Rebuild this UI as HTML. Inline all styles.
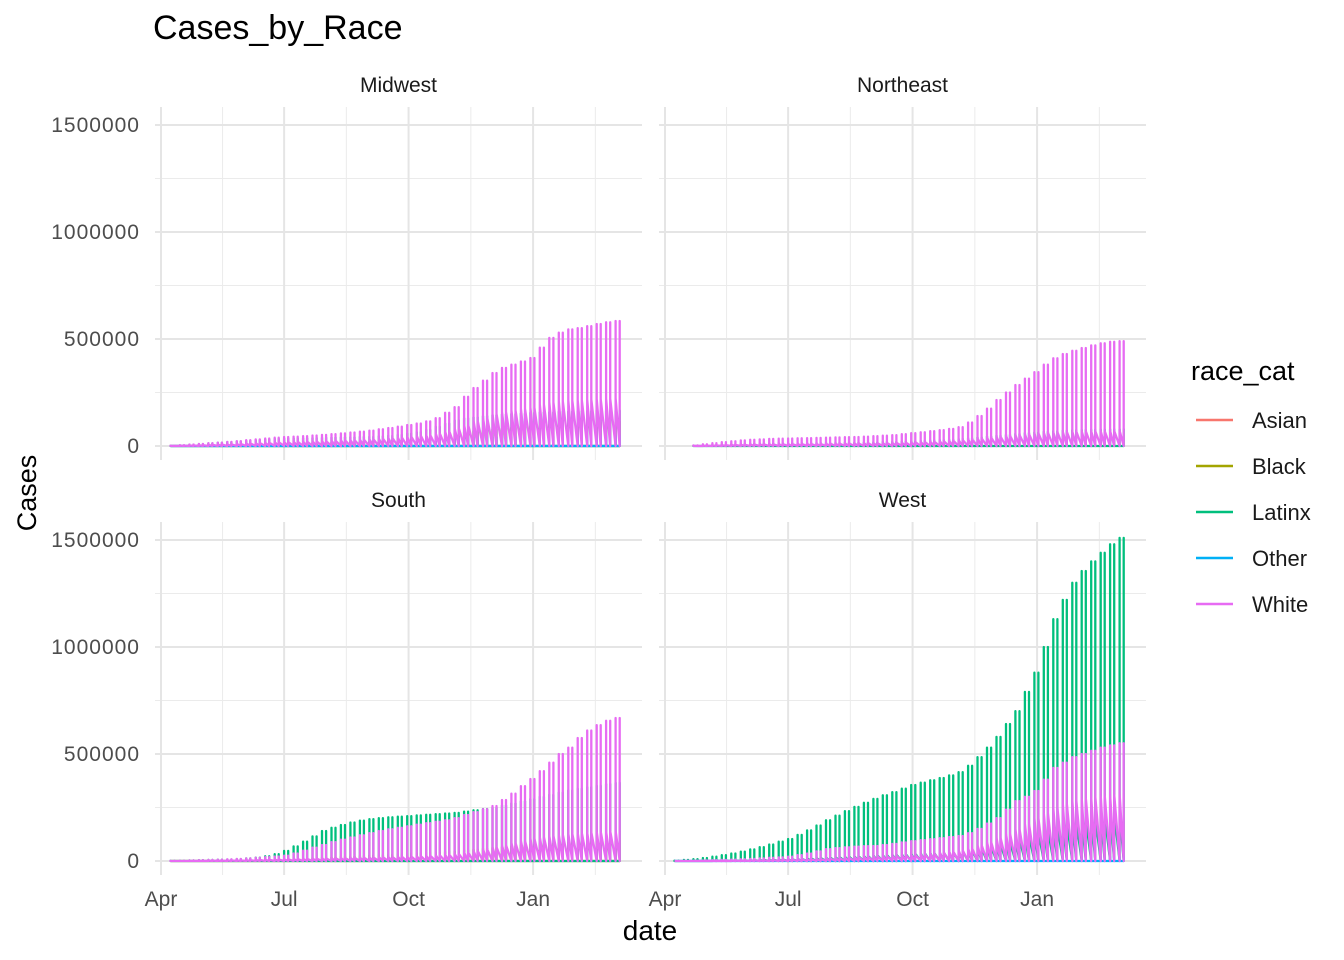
<!DOCTYPE html>
<html><head><meta charset="utf-8"><style>
body{margin:0;background:#fff;}
svg{display:block;font-family:"Liberation Sans",Arial,sans-serif;}
</style></head><body>
<svg id="chart" width="1344" height="960">
<g id="grid"></g><g id="series"></g><g id="axes"></g>
<text x="153" y="39" font-size="34" fill="#000">Cases_by_Race</text>
<text x="650" y="940" font-size="28" text-anchor="middle" fill="#000">date</text>
<text transform="translate(36,493) rotate(-90)" font-size="27" text-anchor="middle" fill="#000">Cases</text>
<g id="legend"></g>
</svg>
<script>
const NS="http://www.w3.org/2000/svg";
const panels=["Midwest","Northeast","South","West"];
const races=["Asian","Black","Latinx","Other","White"];
const colors={Asian:"#F8766D",Black:"#A3A500",Latinx:"#00BF7D",Other:"#00B0F6",White:"#E76BF3"};
const yTicks=[0,500000,1000000,1500000];
const yTickLabels=["0","500000","1000000","1500000"];
const xTickDays=[0,91,183,275];
const xTickLabels=["Apr","Jul","Oct","Jan"];
const startDay=7;
// weekly values (thousands)
const mwWhiteHi=[2,4,7,10,13,16,19,23,27,31,35,39,42,44,46,49,52,55,59,63,67,72,78,84,90,98,105,115,130,155,182,230,271,305,341,365,380,395,411,460,505,530,545,551,560,570,578,584];
const mwWhiteLo=[1,2,3,4,6,7,8,10,12,14,16,18,19,20,21,22,23,25,27,28,30,32,35,38,40,44,48,52,60,70,85,100,120,135,150,160,168,175,180,195,205,210,213,215,218,220,222,224];
const mwLatinxHi=[1,3,6,9,12,15,18,21,24,27,30,33,35,36,37,38,39,40,41,42,43,44,46,48,52,58,65,75,90,105,120,130,135,140,145,148,150,152,155,157,158,160,161,162,163,164,165,166];
const mwOtherHi=[0,0,1,1,1,2,2,3,3,4,4,5,5,6,6,7,8,9,10,11,12,13,14,16,18,20,23,27,31,35,38,40,41,42,42,43,43,44,44,44,45,45,45,45,46,46,46,47];
const mwBlackHi=[0,1,2,3,4,5,6,7,8,9,10,11,12,13,14,15,16,17,18,19,20,21,22,24,26,29,33,38,45,52,60,66,70,74,78,82,86,90,94,97,100,102,104,106,108,110,112,114];
const neWhiteHi=[0,0,3,8,13,18,22,26,29,31,33,34,35,36,37,38,39,40,41,42,44,46,48,51,55,60,64,69,74,80,88,110,140,175,215,250,285,315,345,380,410,430,445,458,470,480,487,490];
const neWhiteLo=[0,0,1,2,3,4,5,6,7,8,8,9,9,10,10,10,11,11,12,12,13,13,14,15,16,18,19,21,23,25,28,32,36,40,44,48,52,56,60,63,65,67,68,69,70,70,71,72];
const neLatinxHi=[0,0,2,4,6,8,9,10,11,12,12,13,13,14,14,15,15,16,16,17,17,18,19,20,21,22,24,26,28,30,33,37,41,45,49,53,57,61,64,67,70,72,74,75,76,77,78,79];
const soLatinxHi=[1,2,3,4,5,6,7,9,12,16,22,32,47,68,90,115,140,155,168,180,189,196,200,204,207,210,213,216,219,222,225,231,237,243,250,260,270,280,290,300,310,320,330,338,345,352,360,366];
const soWhiteHi=[1,2,3,4,5,6,8,10,12,15,18,21,25,35,48,62,75,88,100,110,120,130,140,148,155,162,170,177,183,190,200,215,228,242,257,285,315,350,383,420,460,500,530,575,610,635,655,668];
const soWhiteLo=[0,0,1,1,2,2,3,3,4,5,6,7,8,9,10,11,12,13,14,15,16,17,18,19,20,21,23,25,27,30,34,40,48,56,65,75,85,95,105,112,118,124,128,132,135,138,140,142];
const soBlackHi=[0,0,1,1,2,2,3,3,4,5,6,7,8,10,12,14,16,18,20,22,24,26,28,30,32,34,36,38,40,43,46,50,54,58,62,66,70,74,78,80,82,84,86,88,90,92,94,96];
const weLatinxHi=[2,5,9,14,20,27,35,44,54,65,77,90,103,122,143,166,190,212,233,253,272,290,307,322,338,355,366,377,388,400,415,445,485,530,580,640,700,790,880,1000,1130,1220,1300,1355,1400,1440,1480,1510];
const weLatinxLo=[0,0,1,1,2,2,3,3,4,5,6,7,8,10,12,14,16,18,20,22,24,26,28,30,32,34,36,38,40,43,46,52,60,70,80,92,105,120,135,150,165,175,185,195,205,215,225,230];
const weWhiteHi=[0,1,2,3,4,5,6,8,10,12,15,17,20,27,35,45,55,60,64,67,69,70,75,80,87,93,97,102,107,112,117,130,150,175,200,240,280,300,327,380,435,460,485,500,515,530,540,550];
const weWhiteLo=[0,0,0,1,1,1,2,2,3,3,4,5,6,7,8,10,12,14,16,18,20,22,24,26,28,30,33,36,40,45,50,60,75,90,110,130,150,175,200,225,250,270,285,295,302,308,313,315];
const weOtherHi=[0,0,0,0,0,0,1,1,1,1,1,1,2,2,2,2,2,3,3,3,3,3,4,4,4,4,5,5,5,5,6,6,7,8,9,10,11,12,13,14,15,16,17,18,18,19,20,20];
const series={
 Midwest:[["Black",mwBlackHi,null],["Latinx",mwLatinxHi,null],["Other",mwOtherHi,null],["White",mwWhiteHi,mwWhiteLo]],
 Northeast:[["Latinx",neLatinxHi,null],["White",neWhiteHi,neWhiteLo]],
 South:[["Black",soBlackHi,null],["Latinx",soLatinxHi,null],["White",soWhiteHi,soWhiteLo]],
 West:[["Latinx",weLatinxHi,weLatinxLo],["Other",weOtherHi,null],["White",weWhiteHi,weWhiteLo]]
};
const layout={Midwest:[155,107],Northeast:[659,107],South:[155,522],West:[659,522]};
const PW=487,PH=353;
const Y0=339, YMAX=1500000, YSPAN=321;
function yS(v,top){return top+Y0-v/YMAX*YSPAN;}
function xS(day,left){return left+6+day*1.353;}
const grid=document.getElementById("grid"),axes=document.getElementById("axes"),sg=document.getElementById("series");
function el(tag,attrs,parent){const e=document.createElementNS(NS,tag);for(const k in attrs)e.setAttribute(k,attrs[k]);parent.appendChild(e);return e;}
panels.forEach((p,pi)=>{
 const [L,T]=layout[p];
 const g=el("g",{},grid);
 
 
 [250000,750000,1250000].forEach(v=>{el("line",{x1:L,x2:L+PW,y1:yS(v,T),y2:yS(v,T),stroke:"#ebebeb","stroke-width":1},g);});
 for(let i=0;i<4;i++){const d=xTickDays[i]+(i<3?(xTickDays[i+1]-xTickDays[i])/2:46);el("line",{x1:xS(d,L),x2:xS(d,L),y1:T,y2:T+PH,stroke:"#ebebeb","stroke-width":1},g);}
 yTicks.forEach(v=>{el("line",{x1:L,x2:L+PW,y1:yS(v,T),y2:yS(v,T),stroke:"#e5e5e5","stroke-width":2},g);});
 xTickDays.forEach(d=>{el("line",{x1:xS(d,L),x2:xS(d,L),y1:T,y2:T+PH,stroke:"#e5e5e5","stroke-width":2},g);});
 const st=el("text",{x:L+PW/2,y:T-15,"font-size":21,"text-anchor":"middle",fill:"#1a1a1a"},axes);
 st.textContent=p;
 
 
 if(pi%2==0){yTicks.forEach((v,i)=>{const t=el("text",{x:140,y:yS(v,T)+7,"font-size":21,"letter-spacing":"1","text-anchor":"end",fill:"#4d4d4d"},axes);t.textContent=yTickLabels[i];
  
  });}
 if(pi>=2){xTickDays.forEach((d,i)=>{const t=el("text",{x:xS(d,L),y:906,"font-size":21,"text-anchor":"middle",fill:"#4d4d4d"},axes);t.textContent=xTickLabels[i];
  
  });}
 series[p].forEach(([race,hi,lo])=>{
  let d="";
  for(let w=0;w<hi.length;w++){
   if(hi[w]===0&&w<3&&p==="Northeast")continue;
   [0,3].forEach(off=>{
    const x=xS(startDay+7*w+off,L).toFixed(1);
    const h=hi[w]*1000, l=lo?(lo[Math.min(w,lo.length-1)]*1000):0;
    d+=(d?"L":"M")+x+","+yS(0,T).toFixed(1)+"L"+x+","+yS(h,T).toFixed(1)+"L"+x+","+yS(l,T).toFixed(1);
   });
  }
  const path=el("path",{d:d,fill:"none",stroke:colors[race],"stroke-width":2.3,"stroke-linejoin":"round"},sg);
  
  
 });
});
const lg=document.getElementById("legend");
const lt=el("text",{x:1191,y:380,"font-size":27,fill:"#000"},lg);lt.textContent="race_cat";


races.forEach((r,i)=>{
 const y=420+i*46;
 const gi=el("g",{},lg);
 
 
 el("line",{x1:1196,x2:1233,y1:y,y2:y,stroke:colors[r],"stroke-width":2.5},gi);
 const t=el("text",{x:1252,y:y+8,"font-size":22,fill:"#1a1a1a"},gi);t.textContent=r;
});
</script>
</body></html>
